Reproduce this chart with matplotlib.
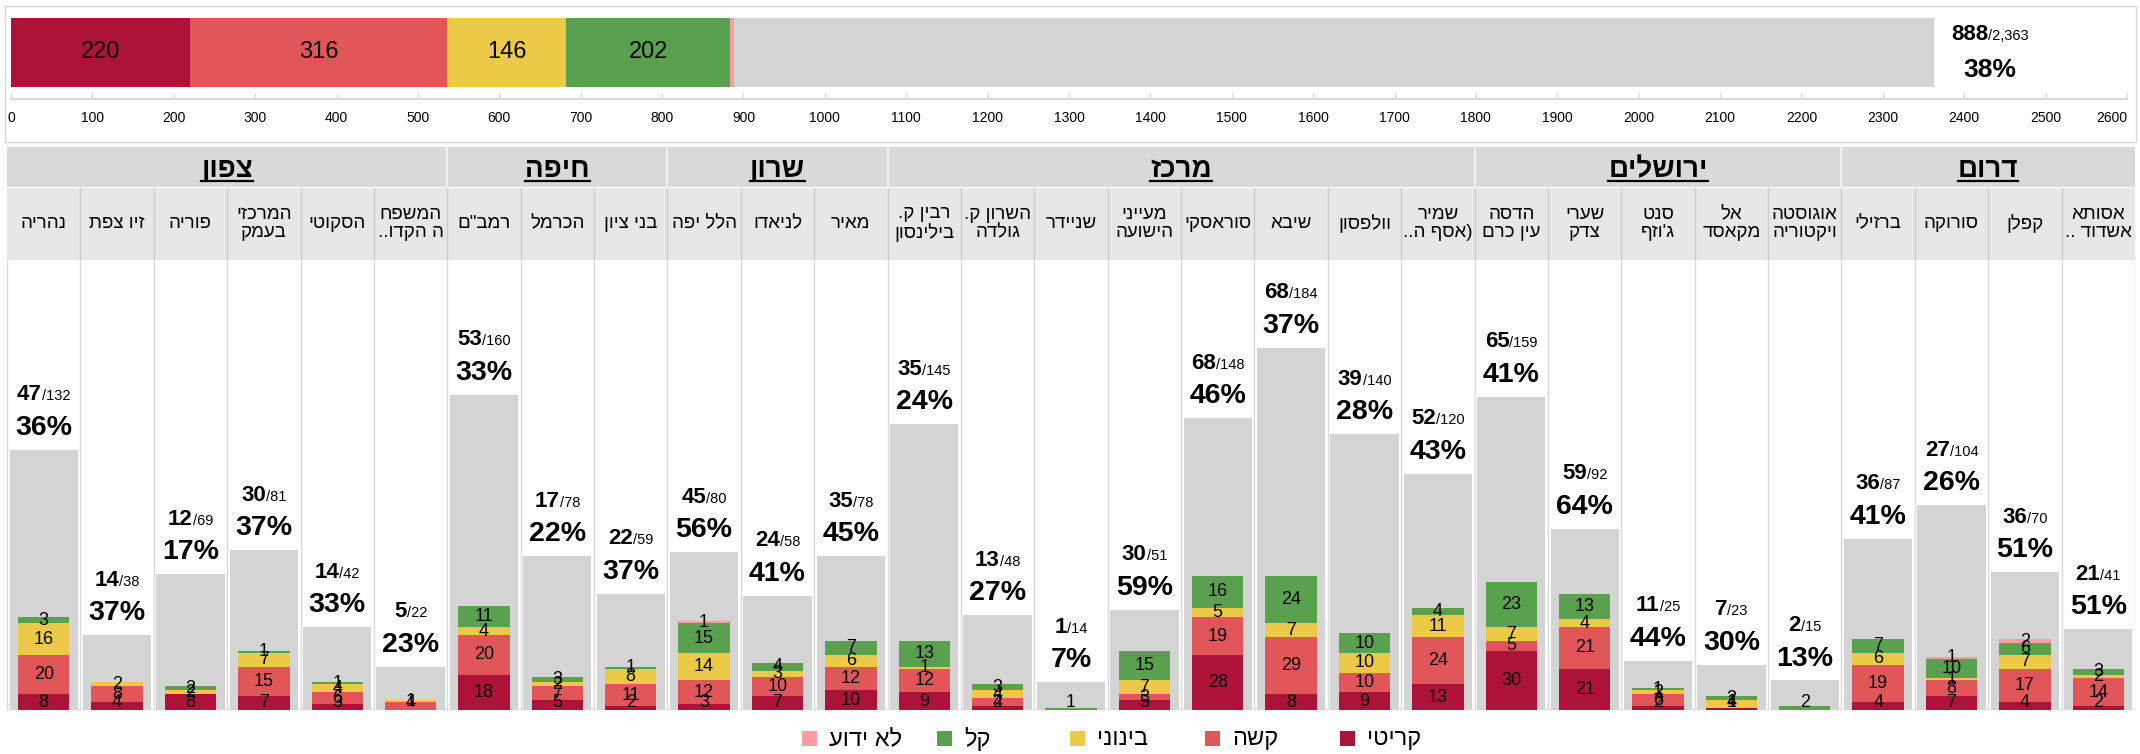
import numpy as np
import matplotlib
matplotlib.use('Agg')
import matplotlib.pyplot as plt
from matplotlib.patches import Rectangle
from matplotlib.lines import Line2D
from matplotlib.transforms import IdentityTransform
from matplotlib.offsetbox import TextArea, HPacker, AnnotationBbox

plt.rcParams['font.family'] = ['Liberation Sans', 'DejaVu Sans']

# ---- data (columns left to right as shown) ----
regions = ['צפון', 'חיפה', 'שרון', 'מרכז', 'ירושלים', 'דרום']
region_size = [6, 3, 3, 8, 5, 4]

hospitals = ['נהריה', 'זיו צפת', 'פוריה', 'המרכזי\nבעמק', 'הסקוטי', 'המשפח\nה הקדו..',
             'רמב"ם', 'הכרמל', 'בני ציון',
             'הלל יפה', 'לניאדו', 'מאיר',
             'רבין ק.\nבילינסון', 'השרון ק.\nגולדה', 'שניידר', 'מעייני\nהישועה', 'סוראסקי',
             'שיבא', 'וולפסון', 'שמיר\n(אסף ה..',
             'הדסה\nעין כרם', 'שערי\nצדק', 'סנט\nג\'וזף', 'אל\nמקאסד', 'אוגוסטה\nויקטוריה',
             'ברזילי', 'סורוקה', 'קפלן', 'אסותא\nאשדוד ..']

critical = [8, 4, 8, 7, 3, 0, 18, 5, 2, 3, 7, 10, 9, 2, 0, 5, 28, 8, 9, 13, 30, 21, 2, 1, 0, 4, 7, 4, 2]
severe = [20, 8, 0, 15, 6, 4, 20, 7, 11, 12, 10, 12, 12, 4, 0, 3, 19, 29, 10, 24, 5, 21, 6, 0, 0, 19, 8, 17, 14]
moderate = [16, 2, 2, 7, 4, 1, 4, 2, 8, 14, 3, 6, 1, 4, 0, 7, 5, 7, 10, 11, 7, 4, 2, 4, 0, 6, 1, 7, 2]
light = [3, 0, 2, 1, 1, 0, 11, 3, 1, 15, 4, 7, 13, 3, 1, 15, 16, 24, 10, 4, 23, 13, 1, 2, 2, 7, 10, 6, 3]
unknown = [0, 0, 0, 0, 0, 0, 0, 0, 0, 1, 0, 0, 0, 0, 0, 0, 0, 0, 0, 0, 0, 0, 0, 0, 0, 0, 1, 2, 0]
total = [132, 38, 69, 81, 42, 22, 160, 78, 59, 80, 58, 78, 145, 48, 14, 51, 148, 184, 140, 120,
         159, 92, 25, 23, 15, 87, 104, 70, 41]

summary_levels = [220, 316, 146, 202, 4]
summary_total = 2363

level_names = ['קריטי', 'קשה', 'בינוני', 'קל', 'לא ידוע']
level_colors = ['#AD1339', '#E15759', '#EDC948', '#59A14F', '#FF9DA7']
GRAY = '#D4D4D4'
LINE = '#D9D9D9'


def rtl(s):
    # matplotlib has no bidi: lay hebrew out right-to-left by hand
    out = []
    for line in s.split('\n'):
        out.append(line[::-1].translate(str.maketrans('()', ')(')))
    return '\n'.join(out)


W, H = 2140, 754
fig = plt.figure(figsize=(W / 100, H / 100), dpi=100)


def box(x0, y0, x1, y1):
    return [x0 / W, 1 - y1 / H, (x1 - x0) / W, (y1 - y0) / H]


# ---- top summary bar ----
fig.patches.append(Rectangle((5 / W, 1 - 142 / H), 2131 / W, 136 / H, transform=fig.transFigure,
                             fill=False, ec=LINE, lw=1))
ax0 = fig.add_axes(box(11, 6, 2127, 99))
ax0.barh(0.5, summary_total, height=0.74, color=GRAY)
left = 0
for v, c in zip(summary_levels, level_colors):
    ax0.barh(0.5, v, left=left, height=0.74, color=c)
    if v >= 50:
        ax0.text(left + v / 2, 0.5, str(v), ha='center', va='center', fontsize=17)
    left += v
done_all = sum(summary_levels)
frac = HPacker(children=[TextArea(str(done_all), textprops=dict(fontsize=16, fontweight='bold')),
                         TextArea('/' + f'{summary_total:,}', textprops=dict(fontsize=10.5))],
               align='baseline', pad=0, sep=0)
ax0.add_artist(AnnotationBbox(frac, (summary_total, 0.5), xybox=(40, 12.6), boxcoords='offset points',
                              frameon=False, box_alignment=(0.5, 0.5)))
ax0.annotate(f'{int(done_all / summary_total * 100 + 0.5)}%', (summary_total, 0.5), xytext=(40, -12.6),
             textcoords='offset points', ha='center', va='center', fontsize=19, fontweight='bold')
ax0.set_xlim(0, 2600)
ax0.set_ylim(0, 1)
ax0.set_yticks([])
ax0.set_xticks(range(0, 2700, 100))
ax0.tick_params(axis='x', direction='in', length=4, color=LINE, labelsize=10, pad=9)
for s in ['top', 'left', 'right']:
    ax0.spines[s].set_visible(False)
ax0.spines['bottom'].set_color(LINE)
ax0.spines['bottom'].set_linewidth(1.5)
ax0.get_xticklabels()[-1].set_ha('right')

# ---- header rows ----
n = len(hospitals)
axh = fig.add_axes(box(7, 147, 2135, 260))
axh.set_xlim(-0.5, n - 0.5)
axh.set_ylim(0, 113)
axh.axis('off')
axh.add_patch(Rectangle((-0.5, 73), n, 40, color='#D9D9D9', lw=0))
axh.add_patch(Rectangle((-0.5, 0), n, 73, color='#E7E7E7', lw=0))
axh.axhline(73, color='white', lw=1)
axh.vlines(np.arange(0.5, n - 1), 0, 73, color='#CDCDCD', lw=1)

region_texts = []
start = 0
for name, k in zip(regions, region_size):
    t = axh.text(start + (k - 1) / 2, 83, rtl(name), ha='center', va='baseline',
                 fontsize=20, fontweight='bold')
    region_texts.append(t)
    if start > 0:
        axh.vlines(start - 0.5, 73, 113, color='#EFEFEF', lw=1.5)
    start += k

for i, name in enumerate(hospitals):
    axh.text(i, 36.5, rtl(name), ha='center', va='center', fontsize=13.5, linespacing=1.05)

# ---- main chart ----
ax = fig.add_axes(box(7, 260, 2135, 710))
ax.set_xlim(-0.5, n - 0.5)
ymax = 450 / 1.97
ax.set_ylim(0, ymax)
ax.axis('off')
ax.vlines(np.arange(-0.5, n), 0, ymax, color=LINE, lw=1, zorder=0)
ax.axhline(0, color=LINE, lw=2, zorder=0)

x = np.arange(n)
ax.bar(x, total, width=0.93, color=GRAY, zorder=1)
bottom = np.zeros(n)
for vals, c in zip([critical, severe, moderate, light, unknown], level_colors):
    vals = np.array(vals)
    ax.bar(x, vals, width=0.70, bottom=bottom, color=c, zorder=2)
    for xi, v, b in zip(x, vals, bottom):
        if v > 0:
            ax.text(xi, max(b + v / 2, 3.6), str(v), ha='center', va='center', fontsize=13, zorder=3)
    bottom = bottom + vals

for xi, d, t in zip(x, bottom, total):
    d = int(d)
    frac = HPacker(children=[TextArea(str(d), textprops=dict(fontsize=16, fontweight='bold')),
                             TextArea(f'/{t}', textprops=dict(fontsize=10.5))],
                   align='baseline', pad=0, sep=0)
    ax.add_artist(AnnotationBbox(frac, (xi, t), xybox=(0, 39.6), boxcoords='offset points',
                                 frameon=False, box_alignment=(0.5, 0.5), annotation_clip=False))
    ax.annotate(f'{int(d / t * 100 + 0.5)}%', (xi, t), xytext=(0, 15.8), textcoords='offset points',
                ha='center', va='center', fontsize=20.5, fontweight='bold')

# ---- legend (right to left: critical first) ----
legend_x = [1340, 1205, 1070, 937, 802]
for lx, name, c in zip(legend_x, level_names, level_colors):
    fig.patches.append(Rectangle((lx / W, 1 - 746 / H), 15 / W, 15 / H, transform=fig.transFigure,
                                 color=c, lw=0))
    fig.text((lx + 27) / W, 1 - 739 / H, rtl(name), ha='left', va='center', fontsize=17)

# underline the region headers
fig.canvas.draw()
for t in region_texts:
    bb = t.get_window_extent()
    base = axh.transData.transform((0, 83))[1]
    fig.add_artist(Line2D([bb.x0, bb.x1], [base - 3.5, base - 3.5], transform=IdentityTransform(),
                          color='black', lw=1.6))

fig.savefig('out.png', dpi=100)
